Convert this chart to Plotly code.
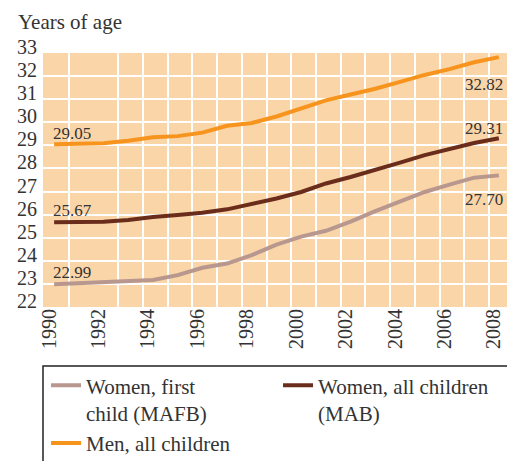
import plotly.graph_objects as go

# Mean age at childbirth, 1990-2008
years = list(range(1990, 2009))
women_first = [22.99, 23.03, 23.07, 23.10, 23.17, 23.38, 23.70, 23.88, 24.25, 24.70,
               25.05, 25.30, 25.70, 26.15, 26.55, 26.98, 27.30, 27.60, 27.70]
women_all = [25.67, 25.68, 25.69, 25.77, 25.90, 25.98, 26.08, 26.23, 26.45, 26.70,
             26.98, 27.35, 27.63, 27.93, 28.25, 28.58, 28.85, 29.10, 29.31]
men_all = [29.05, 29.07, 29.09, 29.20, 29.35, 29.40, 29.55, 29.85, 29.97, 30.25,
           30.60, 30.95, 31.20, 31.45, 31.75, 32.05, 32.30, 32.60, 32.82]

year_ticks = list(range(1990, 2009, 2))
y_ticks = list(range(22, 34))
# vertical grid sits between the years (one line is missing in the source)
grid_x = [1990.6] + [y + 0.6 for y in range(1992, 2008)]

names = ["Women, first<br>child (MAFB)", "Women, all children<br>(MAB)", "Men, all children"]
colors = ["#b8978f", "#6b2d1b", "#f7941d"]
series = [women_first, women_all, men_all]

SERIF = "Liberation Serif"

fig = go.Figure()
for name, col, vals in zip(names, colors, series):
    fig.add_trace(go.Scatter(x=years, y=vals, name=name, mode="lines",
                             line=dict(color=col, width=4)))

# end labels
lab_font = dict(family=SERIF, size=17, color="#333333")
fig.add_annotation(x=years[0], y=men_all[0], text=f"{men_all[0]:.2f}", showarrow=False,
                   xanchor="left", yanchor="middle", xshift=-3, yshift=11, font=lab_font)
fig.add_annotation(x=years[0], y=women_all[0], text=f"{women_all[0]:.2f}", showarrow=False,
                   xanchor="left", yanchor="middle", xshift=-3, yshift=12, font=lab_font)
fig.add_annotation(x=years[0], y=women_first[0], text=f"{women_first[0]:.2f}", showarrow=False,
                   xanchor="left", yanchor="middle", xshift=-3, yshift=12, font=lab_font)
fig.add_annotation(x=years[-1], y=men_all[-1], text=f"{men_all[-1]:.2f}", showarrow=False,
                   xanchor="right", yanchor="middle", xshift=6, yshift=-27, font=lab_font)
fig.add_annotation(x=years[-1], y=women_all[-1], text=f"{women_all[-1]:.2f}", showarrow=False,
                   xanchor="right", yanchor="middle", xshift=6, yshift=10, font=lab_font)
fig.add_annotation(x=years[-1], y=women_first[-1], text=f"{women_first[-1]:.2f}", showarrow=False,
                   xanchor="right", yanchor="middle", xshift=6, yshift=-24, font=lab_font)

# axis title
fig.add_annotation(xref="paper", yref="paper", x=-0.058, y=1.122, text="Years of age",
                   showarrow=False, xanchor="left", yanchor="middle",
                   font=dict(family=SERIF, size=21, color="#333333"))

# legend frame
fig.add_shape(type="rect", xref="paper", yref="paper", x0=0, x1=1.2, y0=-0.232, y1=-0.7,
              line=dict(color="#222222", width=1.5), fillcolor="rgba(0,0,0,0)")

fig.update_xaxes(range=[1989.55, 2008.33], tickmode="array", tickvals=year_ticks,
                 tickangle=-90, showgrid=False, zeroline=False, ticks="", automargin=False,
                 ticklabeloverflow="allow", ticklabelshift=-5, ticklabelstandoff=-3,
                 tickfont=dict(family=SERIF, size=20, color="#333333"),
                 minor=dict(tickmode="array", tickvals=grid_x, showgrid=True,
                            gridcolor="white", gridwidth=2, ticks=""))
fig.update_yaxes(range=[22, 33], tickmode="array", tickvals=y_ticks, showgrid=True,
                 gridcolor="white", gridwidth=2, zeroline=False, ticks="", automargin=False,
                 ticklabelstandoff=5, ticklabelshift=-6,
                 tickfont=dict(family=SERIF, size=20, color="#333333"))

fig.update_layout(
    width=507, height=461,
    margin=dict(l=43, r=0, t=53, b=154, autoexpand=False),
    plot_bgcolor="#fad5a8", paper_bgcolor="white",
    showlegend=True,
    legend=dict(orientation="h", x=0.0065, y=-0.229, xanchor="left", yanchor="top",
                entrywidth=187, entrywidthmode="pixels", valign="top",
                traceorder="normal", bgcolor="rgba(0,0,0,0)",
                font=dict(family=SERIF, size=21, color="#333333")),
)

# page body has a default 8px margin; drop it so the figure fills the window
fig.write_html("out.html", config={"displayModeBar": False},
               post_script="document.body.style.margin='0';")
